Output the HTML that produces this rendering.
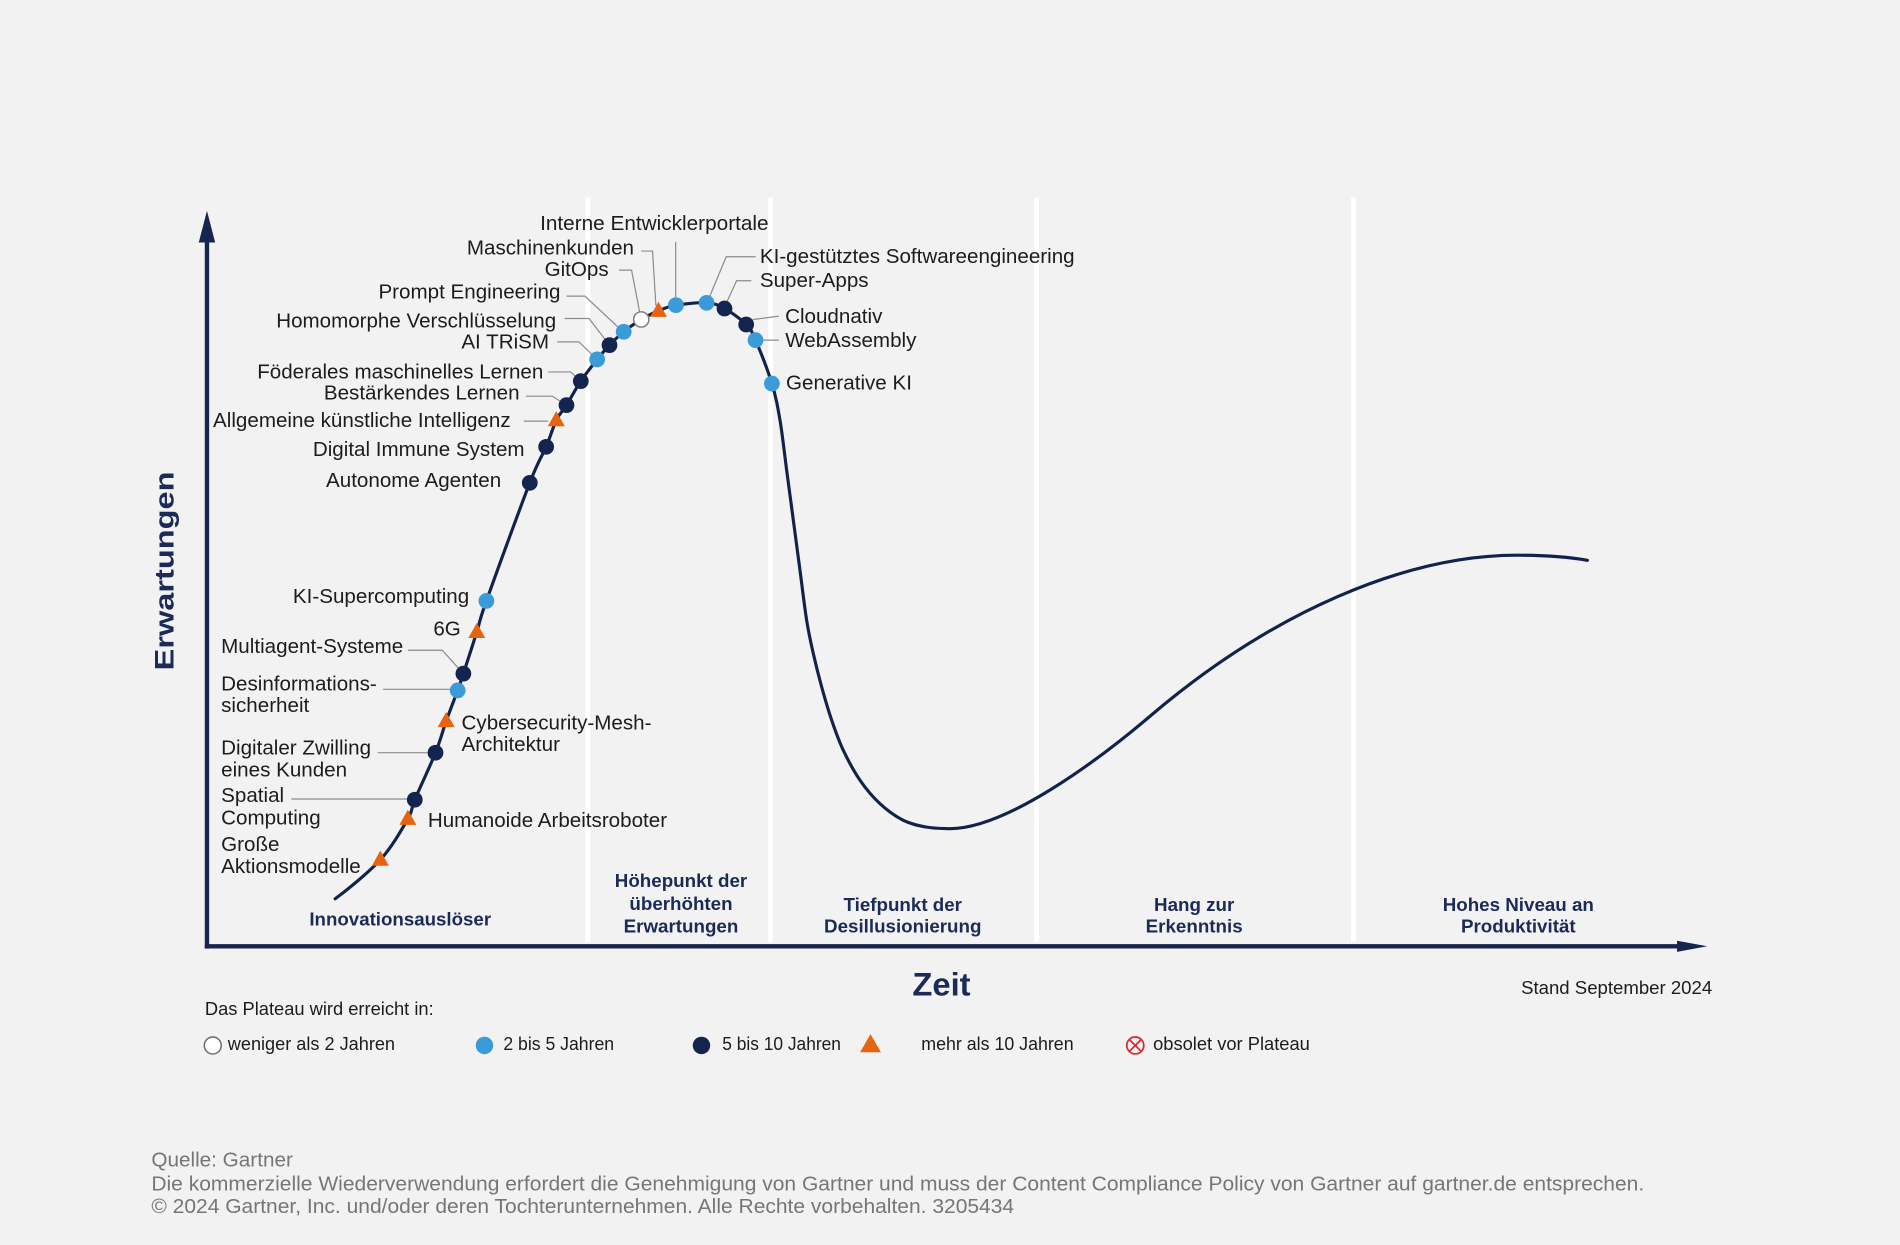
<!DOCTYPE html>
<html>
<head>
<meta charset="utf-8">
<style>
html,body{margin:0;padding:0;background:#f2f2f2;}
svg{display:block;}
text{font-family:"Liberation Sans",Arial,sans-serif;}
.lb{font-size:17px;fill:#1c1c1c;}
.ph{font-size:15.5px;font-weight:bold;fill:#1b2a56;text-anchor:middle;}
.lg{font-size:15px;fill:#1c1c1c;}
.ft{font-size:16.5px;fill:#767676;}
.ld{stroke:#8c8c8c;stroke-width:1;fill:none;}
</style>
</head>
<body>
<svg width="1900" height="1245" viewBox="0 0 1568 1027" preserveAspectRatio="none" xmlns="http://www.w3.org/2000/svg">
<rect x="0" y="0" width="1568" height="1027" fill="#f2f2f2"/>

<!-- phase separators -->
<g stroke="#ffffff" stroke-width="4">
<line x1="485" y1="163" x2="485" y2="777"/>
<line x1="636" y1="163" x2="636" y2="777"/>
<line x1="855.5" y1="163" x2="855.5" y2="777"/>
<line x1="1117" y1="163" x2="1117" y2="777"/>
</g>

<!-- axes -->
<g fill="#16254d" stroke="none">
<rect x="169" y="196" width="3.6" height="586.5"/>
<polygon points="164,200 177.6,200 170.8,174"/>
<rect x="169" y="778.8" width="1218" height="3.6"/>
<polygon points="1384,776 1409,780.6 1384,785.2"/>
</g>

<!-- curve -->
<path id="hc" d="M276.6,741.4 L313.9,709.2 L336.6,675.4 L342.3,659.7 L359.4,620.9 L368.2,594.8 L377.7,569.5 L382.4,555.7 L393.5,521.3 L401.4,495.7 L437.2,398.3 L450.7,368.6 L459.1,346.6 L467.5,334.2 L479.3,314.4 L492.8,296.5 L503,284.7 L514.7,273.7 L529.2,263.5 L543.4,256.4 L557.8,251.7 L583.1,249.8 L597.9,254.5 L615.8,267.7 L623.5,280.6 L637,316.4 L643.7,346.6 L649.2,387.9 L654.7,429.1 L660.2,470.4 L665.7,511.7 L671.2,539.2 L678.1,566.7 L686.4,594.2 L696,619 L709.8,643.7 L726.3,663 L745.5,676.7 L764.8,682.3 L784,683.6 C830,683.6 905,628.3 950,590 C1050,505 1160,458 1252,458 C1275,458 1295,459.5 1310,462.2" fill="none" stroke="#13224a" stroke-width="2.6" stroke-linecap="round" stroke-linejoin="round"/>

<!-- leader lines -->
<g class="ld">
<polyline points="529.2,207.1 538.5,207.1 541.3,252"/>
<polyline points="510.8,222.8 521.2,222.8 528.1,258.6"/>
<polyline points="557.6,199.5 557.6,245"/>
<polyline points="467.5,244.3 482.7,244.3 514.2,273.7"/>
<polyline points="465.9,262.7 486.1,262.7 503,284.7"/>
<polyline points="459.8,282 477.7,282 492.8,296.5"/>
<polyline points="452.4,306.8 470.9,306.8 479.3,314.4"/>
<polyline points="433.9,326.8 455.7,326.8 467.5,334.2"/>
<polyline points="432.3,347.4 452.4,347.4"/>
<polyline points="623.7,211.8 599.3,211.8 585.5,245"/>
<polyline points="620.1,231.6 607.9,231.6 599.3,250.3"/>
<polyline points="642.7,260.8 621.9,263.5 615.8,267.7"/>
<polyline points="628,280.6 642.7,280.6"/>
<polyline points="336.6,536.4 365,536.4 382.4,555.7"/>
<polyline points="316.1,568.6 374.5,568.6"/>
<polyline points="311.7,620.9 359.8,620.9"/>
<polyline points="240.3,659.1 336.6,659.1"/>
</g>

<!-- markers -->
<g id="marks">
<g fill="#e8630f">
<polygon points="313.9,701.7 306.9,714.2 320.9,714.2"/>
<polygon points="336.6,667.9 329.6,680.4 343.6,680.4"/>
<polygon points="368.2,587.3 361.2,599.8 375.2,599.8"/>
<polygon points="393.5,513.8 386.5,526.3 400.5,526.3"/>
<polygon points="459.1,339.1 452.1,351.6 466.1,351.6"/>
<polygon points="543.4,248.9 536.4,261.4 550.4,261.4"/>
</g>
<g fill="#13244e">
<circle cx="342.3" cy="659.7" r="6.5"/>
<circle cx="359.4" cy="620.9" r="6.5"/>
<circle cx="382.4" cy="555.7" r="6.5"/>
<circle cx="437.2" cy="398.3" r="6.5"/>
<circle cx="450.7" cy="368.6" r="6.5"/>
<circle cx="467.5" cy="334.2" r="6.5"/>
<circle cx="479.3" cy="314.4" r="6.5"/>
<circle cx="503" cy="284.7" r="6.5"/>
<circle cx="597.9" cy="254.5" r="6.5"/>
<circle cx="615.8" cy="267.7" r="6.5"/>
</g>
<g fill="#3b9bd8">
<circle cx="377.7" cy="569.5" r="6.5"/>
<circle cx="401.4" cy="495.7" r="6.5"/>
<circle cx="492.8" cy="296.5" r="6.5"/>
<circle cx="514.7" cy="273.7" r="6.5"/>
<circle cx="557.8" cy="251.7" r="6.5"/>
<circle cx="583.1" cy="249.8" r="6.5"/>
<circle cx="623.5" cy="280.6" r="6.5"/>
<circle cx="637" cy="316.4" r="6.5"/>
</g>
<circle cx="529.2" cy="263.5" r="6.3" fill="#ffffff" stroke="#7a7a7a" stroke-width="1.2"/>
</g>

<!-- labels -->
<g class="lb">
<text x="445.7" y="189.8" textLength="188.6" lengthAdjust="spacingAndGlyphs">Interne Entwicklerportale</text>
<g text-anchor="end">
<text x="523.2" y="209.9">Maschinenkunden</text>
<text x="502.3" y="227.8">GitOps</text>
<text x="462.5" y="246.2">Prompt Engineering</text>
<text x="459" y="270.1" textLength="231" lengthAdjust="spacingAndGlyphs">Homomorphe Verschlüsselung</text>
<text x="453.1" y="287.5">AI TRiSM</text>
<text x="448.4" y="312.2">Föderales maschinelles Lernen</text>
<text x="428.8" y="329.6">Bestärkendes Lernen</text>
<text x="421.4" y="352.1">Allgemeine künstliche Intelligenz</text>
<text x="432.9" y="376.3">Digital Immune System</text>
<text x="413.6" y="401.6">Autonome Agenten</text>
<text x="387.2" y="497.4">KI-Supercomputing</text>
<text x="380.3" y="524.1">6G</text>
</g>
<text x="182.5" y="538.6" textLength="150.3" lengthAdjust="spacingAndGlyphs">Multiagent-Systeme</text>
<text x="182.5" y="569.5">Desinformations-</text>
<text x="182.5" y="587.3">sicherheit</text>
<text x="182.5" y="622.3">Digitaler Zwilling</text>
<text x="182.5" y="640.4">eines Kunden</text>
<text x="182.5" y="661.6">Spatial</text>
<text x="182.5" y="680.3">Computing</text>
<text x="182.5" y="702.1">Große</text>
<text x="182.5" y="720.2">Aktionsmodelle</text>
<text x="380.9" y="601.9">Cybersecurity-Mesh-</text>
<text x="380.9" y="619.5">Architektur</text>
<text x="353.1" y="682.3">Humanoide Arbeitsroboter</text>
<text x="627.1" y="216.8">KI-gestütztes Softwareengineering</text>
<text x="627.1" y="236.6">Super-Apps</text>
<text x="647.9" y="266.3">Cloudnativ</text>
<text x="648" y="286.1">WebAssembly</text>
<text x="648.7" y="321.3">Generative KI</text>
</g>

<!-- phase labels -->
<g class="ph">
<text x="330.3" y="763.4" textLength="150" lengthAdjust="spacingAndGlyphs">Innovationsauslöser</text>
<text x="562" y="731.5">Höhepunkt der</text>
<text x="562" y="750.5">überhöhten</text>
<text x="562" y="769.3">Erwartungen</text>
<text x="745" y="751.3">Tiefpunkt der</text>
<text x="745" y="769.1">Desillusionierung</text>
<text x="985.5" y="751.3">Hang zur</text>
<text x="985.5" y="769.1">Erkenntnis</text>
<text x="1253" y="751.3">Hohes Niveau an</text>
<text x="1253" y="769.1">Produktivität</text>
</g>

<!-- axis titles -->
<text transform="translate(143,471) rotate(-90)" text-anchor="middle" font-size="22" font-weight="bold" fill="#1b2a56" textLength="164" lengthAdjust="spacingAndGlyphs">Erwartungen</text>
<text x="777" y="821.2" text-anchor="middle" font-size="27" font-weight="bold" fill="#1b2a56">Zeit</text>
<text x="1413" y="819.8" text-anchor="end" class="lg" textLength="157.7" lengthAdjust="spacingAndGlyphs">Stand September 2024</text>

<!-- legend -->
<text x="169.1" y="837.1" class="lg" textLength="188.8" lengthAdjust="spacingAndGlyphs">Das Plateau wird erreicht in:</text>
<circle cx="175.6" cy="862.4" r="7" fill="#ffffff" stroke="#6a6a6a" stroke-width="1.2"/>
<text x="188" y="866" class="lg" textLength="138" lengthAdjust="spacingAndGlyphs">weniger als 2 Jahren</text>
<circle cx="399.8" cy="862.4" r="7.2" fill="#3b9bd8"/>
<text x="415.4" y="866" class="lg" textLength="91.4" lengthAdjust="spacingAndGlyphs">2 bis 5 Jahren</text>
<circle cx="578.9" cy="862.4" r="7.2" fill="#13244e"/>
<text x="596.1" y="866" class="lg" textLength="97.9" lengthAdjust="spacingAndGlyphs">5 bis 10 Jahren</text>
<polygon points="718.4,853 709.8,868 727,868" fill="#e8630f"/>
<text x="760.3" y="866" class="lg" textLength="125.7" lengthAdjust="spacingAndGlyphs">mehr als 10 Jahren</text>
<circle cx="936.9" cy="862.4" r="7" fill="none" stroke="#d9262e" stroke-width="1.4"/>
<line x1="932.4" y1="857.9" x2="941.4" y2="866.9" stroke="#d9262e" stroke-width="1.4"/>
<line x1="941.4" y1="857.9" x2="932.4" y2="866.9" stroke="#d9262e" stroke-width="1.4"/>
<text x="951.6" y="866" class="lg" textLength="129.4" lengthAdjust="spacingAndGlyphs">obsolet vor Plateau</text>

<!-- footer -->
<text x="124.9" y="962.3" class="ft" textLength="116.8" lengthAdjust="spacingAndGlyphs">Quelle: Gartner</text>
<text x="124.9" y="982.1" class="ft" textLength="1232" lengthAdjust="spacingAndGlyphs">Die kommerzielle Wiederverwendung erfordert die Genehmigung von Gartner und muss der Content Compliance Policy von Gartner auf gartner.de entsprechen.</text>
<text x="124.9" y="1000.8" class="ft" textLength="712" lengthAdjust="spacingAndGlyphs">© 2024 Gartner, Inc. und/oder deren Tochterunternehmen. Alle Rechte vorbehalten. 3205434</text>
</svg>
<script>
(function(){
var p=[[276.6,741.4],[313.9,709.2],[336.6,675.4],[342.3,659.7],[359.4,620.9],[368.2,594.8],[377.7,569.5],[382.4,555.7],[393.5,521.3],[401.4,495.7],[437.2,398.3],[450.7,368.6],[459.1,346.6],[467.5,334.2],[479.3,314.4],[492.8,296.5],[503,284.7],[514.7,273.7],[529.2,263.5],[543.4,256.4],[557.8,251.7],[583.1,249.8],[597.9,254.5],[615.8,267.7],[623.5,280.6],[637,316.4],[643.7,346.6],[649.2,387.9],[654.7,429.1],[660.2,470.4],[665.7,511.7],[671.2,539.2],[678.1,566.7],[686.4,594.2],[696,619],[709.8,643.7],[726.3,663],[745.5,676.7],[764.8,682.3],[784,683.6]];
var d="M"+p[0][0]+","+p[0][1];
for(var i=0;i<p.length-1;i++){
var a=p[i-1]||[p[i][0]-12,p[i][1]+4],b=p[i],c=p[i+1],e=p[i+2]||[806,683.6];
var c1x=b[0]+(c[0]-a[0])/6,c1y=b[1]+(c[1]-a[1])/6;
var c2x=c[0]-(e[0]-b[0])/6,c2y=c[1]-(e[1]-b[1])/6;
d+=" C"+c1x.toFixed(2)+","+c1y.toFixed(2)+" "+c2x.toFixed(2)+","+c2y.toFixed(2)+" "+c[0]+","+c[1];
}
d+=" C830,683.6 905,628.3 950,590 C1050,505 1160,458 1252,458 C1275,458 1295,459.5 1310,462.2";
document.getElementById("hc").setAttribute("d",d);
})();
</script>
</body>
</html>
